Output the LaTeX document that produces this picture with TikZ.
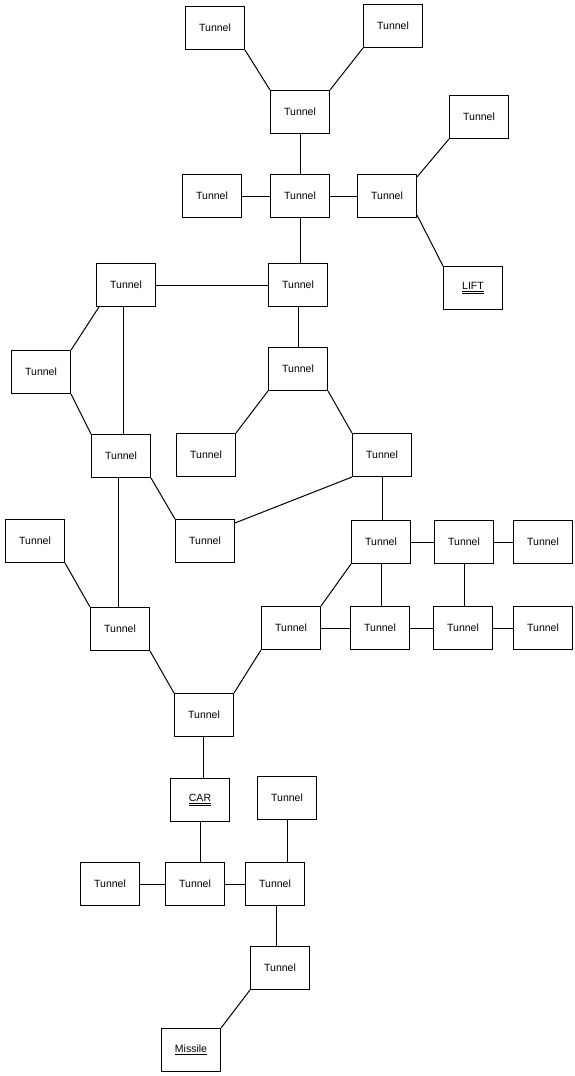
\documentclass[tikz,border=0pt]{standalone}
\usepackage{fontspec}
\setmainfont{Liberation Sans}
\begin{document}
\begin{tikzpicture}[x=1pt,y=-1pt,
  box/.style={draw,line width=1.1pt,rectangle,minimum width=59pt,minimum height=43pt,inner sep=1pt,font=\fontsize{10.5}{12}\selectfont},
  link/.style={line width=1pt}]
\useasboundingbox[fill=white] (0,0) rectangle (574,1076);
% nodes
\node[box] (t1) at (215,28) {Tunnel};
\node[box] (t2) at (393,26) {Tunnel};
\node[box] (t3) at (300,112) {Tunnel};
\node[box] (t4) at (212,196) {Tunnel};
\node[box] (t5) at (300,196) {Tunnel};
\node[box] (t6) at (387,196) {Tunnel};
\node[box] (t7) at (479,117) {Tunnel};
\node[box] (lift) at (473,288) {\underline{\underline{LIFT}}};
\node[box] (t8) at (126,285) {Tunnel};
\node[box] (t9) at (298,285) {Tunnel};
\node[box] (t10) at (41,372) {Tunnel};
\node[box] (t11) at (298,369) {Tunnel};
\node[box] (t12) at (121,456) {Tunnel};
\node[box] (t13) at (206,455) {Tunnel};
\node[box] (t14) at (382,455) {Tunnel};
\node[box] (t15) at (35,541) {Tunnel};
\node[box] (t16) at (205,541) {Tunnel};
\node[box] (t17) at (381,542) {Tunnel};
\node[box] (t18) at (464,542) {Tunnel};
\node[box] (t19) at (543,542) {Tunnel};
\node[box] (t20) at (120,629) {Tunnel};
\node[box] (t21) at (291,628) {Tunnel};
\node[box] (t22) at (380,628) {Tunnel};
\node[box] (t23) at (463,628) {Tunnel};
\node[box] (t24) at (543,628) {Tunnel};
\node[box] (t25) at (204,715) {Tunnel};
\node[box] (car) at (200,800) {\underline{\underline{CAR}}};
\node[box] (t26) at (287,798) {Tunnel};
\node[box] (t27) at (110,884) {Tunnel};
\node[box] (t28) at (195,884) {Tunnel};
\node[box] (t29) at (275,884) {Tunnel};
\node[box] (t30) at (280,968) {Tunnel};
\node[box] (mis) at (191,1050) {\underline{Missile}};
% links
\draw[link] (t1.south east) -- (t3.north west);
\draw[link] (t2.south west) -- (t3.north east);
\draw[link] (t3) -- (t5);
\draw[link] (t4) -- (t5);
\draw[link] (t5) -- (t6);
\draw[link] ([yshift=-3pt]t6.north east) -- (t7.south west);
\draw[link] ([yshift=3pt]t6.south east) -- (lift.north west);
\draw[link] (t5) -- (t5 |- t9.north);
\draw[link] (t8) -- (t9);
\draw[link] ([xshift=3pt]t8.south west) -- (t10.north east);
\draw[link] ([xshift=-3pt]t8.south) -- ([xshift=-3pt]t8.south |- t12.north);
\draw[link] (t10.south east) -- (t12.north west);
\draw[link] (t9) -- (t11);
\draw[link] (t11.south west) -- (t13.north east);
\draw[link] (t11.south east) -- (t14.north west);
\draw[link] (t12.south east) -- (t16.north west);
\draw[link] ([xshift=-3pt]t12.south) -- ([xshift=-3pt]t12.south |- t20.north);
\draw[link] (t14.south west) -- ([yshift=-4pt]t16.north east);
\draw[link] (t14.south) -- (t14.south |- t17.north);
\draw[link] (t15.south east) -- (t20.north west);
\draw[link] (t17) -- (t18);
\draw[link] (t18) -- (t19);
\draw[link] (t17.south west) -- (t21.north east);
\draw[link] (t17) -- (t17 |- t22.north);
\draw[link] (t18) -- (t18 |- t23.north);
\draw[link] (t21) -- (t22);
\draw[link] (t22) -- (t23);
\draw[link] (t23) -- (t24);
\draw[link] (t20.south east) -- (t25.north west);
\draw[link] (t21.south west) -- (t25.north east);
\draw[link] ([xshift=-1pt]t25.south) -- ([xshift=-1pt]t25.south |- car.north);
\draw[link] (car.south) -- (car.south |- t28.north);
\draw[link] (t27) -- (t28);
\draw[link] (t28) -- (t29);
\draw[link] (t26.south) -- (t26.south |- t29.north);
\draw[link] ([xshift=-4pt]t30.north) -- ([xshift=-4pt]t30.north |- t29.south);
\draw[link] (t30.south west) -- (mis.north east);
\end{tikzpicture}
\end{document}
